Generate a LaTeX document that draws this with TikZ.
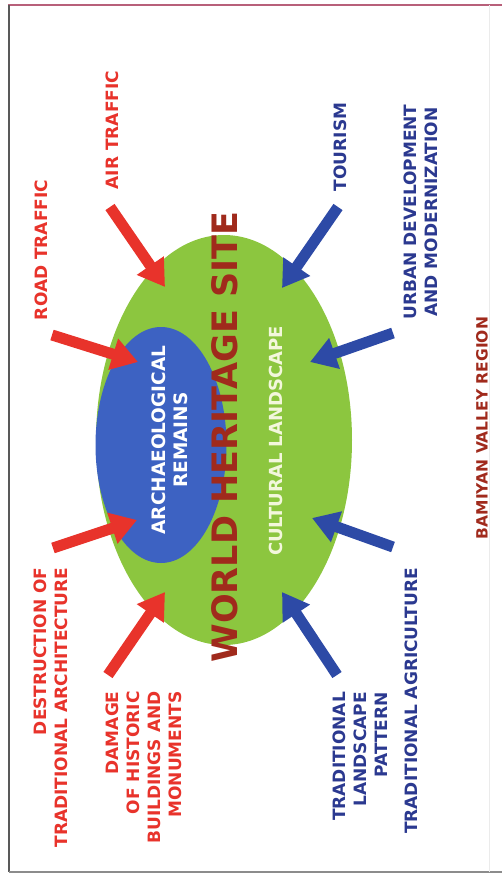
\documentclass[tikz,border=0pt]{standalone}
\usepackage{fontspec}
\setmainfont{DejaVu Sans}
\usetikzlibrary{shapes.geometric,arrows.meta}
\definecolor{sitegreen}{HTML}{8CC63F}
\definecolor{remainsblue}{HTML}{3D62C2}
\definecolor{threatred}{HTML}{E8332B}
\definecolor{forceblue}{HTML}{2D4AA6}
\definecolor{labelblue}{HTML}{2B3990}
\definecolor{titlered}{HTML}{A02A1C}
\definecolor{framepink}{HTML}{B8607A}
\definecolor{palewhite}{HTML}{F3F7DC}
\tikzset{
  label/.style={rotate=90, inner sep=0pt, font=\bfseries\fontsize{17}{21}\selectfont},
  redlabel/.style={label, text=threatred},
  bluelabel/.style={label, text=labelblue},
  impact/.style={line width=11pt, -{Triangle[length=26pt,width=31pt]}},
  redimpact/.style={impact, draw=threatred},
  blueimpact/.style={impact, draw=forceblue},
}
\begin{document}
\begin{tikzpicture}[x=1pt,y=-1pt]
\useasboundingbox (0,0) rectangle (502,876);
% frame
\draw[framepink, line width=1.5pt] (8,5) -- (502,5);
\draw[black!65, line width=1.5pt] (9,5) -- (9,872);
\draw[black!45, line width=1.5pt] (9,872) -- (502,872);
\draw[black!8, line width=1pt] (489,5) -- (489,872);

% site and remains
\node[ellipse, fill=sitegreen, inner sep=0pt, minimum width=256pt, minimum height=410pt] (site) at (224,440) {};
\node[ellipse, fill=remainsblue, inner sep=0pt, minimum width=131pt, minimum height=236pt] (remains) at (161,445) {};
\node[rotate=90, inner sep=0pt, text=titlered, font=\bfseries\fontsize{35}{40}\selectfont] (whs) at (225,437) {WORLD HERITAGE SITE};
\node[rotate=90, inner sep=0pt, align=center, text=white, font=\bfseries\fontsize{18.5}{22}\selectfont] (arch) at (169.5,440) {ARCHAEOLOGICAL\\REMAINS};
\node[rotate=90, inner sep=0pt, text=palewhite, font=\bfseries\fontsize{18}{22}\selectfont] (cult) at (276,441) {CULTURAL LANDSCAPE};

% outer labels
\node[redlabel] (road) at (41,250) {ROAD TRAFFIC};
\node[redlabel] (air) at (112,130) {AIR TRAFFIC};
\node[redlabel, align=right] (destr) at (50.5,707.5) {DESTRUCTION OF\\TRADITIONAL ARCHITECTURE};
\node[redlabel, align=right] (damage) at (143.5,767.5) {DAMAGE\\OF HISTORIC\\BUILDINGS AND\\MONUMENTS};
\node[bluelabel] (tour) at (340,147) {TOURISM};
\node[bluelabel, align=center] (urban) at (421,212) {URBAN DEVELOPMENT\\AND MODERNIZATION};
\node[bluelabel, align=right] (pattern) at (360.5,756.5) {TRADITIONAL\\LANDSCAPE\\PATTERN};
\node[bluelabel] (agri) at (411,701) {TRADITIONAL AGRICULTURE};
\node[rotate=90, inner sep=0pt, text=titlered, font=\bfseries\fontsize{15.5}{19}\selectfont] (region) at (482,428) {BAMIYAN VALLEY REGION};

% arrow ends
\coordinate (roadT) at (52,335);   \coordinate (roadH) at (138,362);
\coordinate (airT) at (110,207);   \coordinate (airH) at (165,287);
\coordinate (destrT) at (53,548);  \coordinate (destrH) at (137,520);
\coordinate (damT) at (108,675);   \coordinate (damH) at (165,592);
\coordinate (tourT) at (338,207);  \coordinate (tourH) at (282,288);
\coordinate (urbT) at (393,333);   \coordinate (urbH) at (310,362);
\coordinate (agriT) at (393,547);  \coordinate (agriH) at (312,518);
\coordinate (patT) at (337,675);   \coordinate (patH) at (282,592);

\draw[redimpact] (roadT) -- (roadH);
\draw[redimpact] (airT) -- (airH);
\draw[redimpact] (destrT) -- (destrH);
\draw[redimpact] (damT) -- (damH);
\draw[blueimpact] (tourT) -- (tourH);
\draw[blueimpact] (urbT) -- (urbH);
\draw[blueimpact] (agriT) -- (agriH);
\draw[blueimpact] (patT) -- (patH);
\end{tikzpicture}
\end{document}
